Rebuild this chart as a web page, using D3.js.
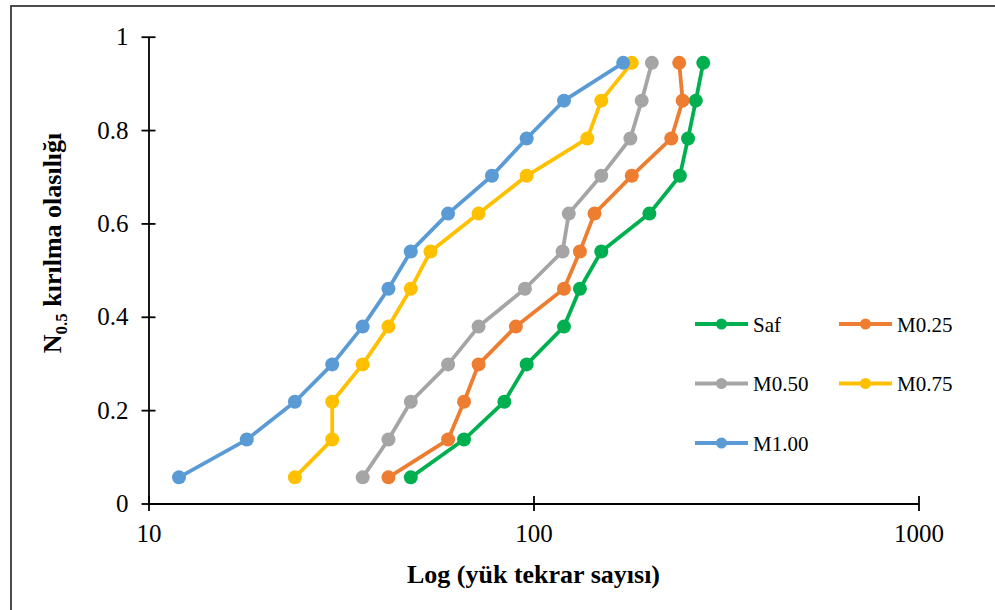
<!DOCTYPE html>
<html>
<head>
<meta charset="utf-8">
<script src="https://cdn.jsdelivr.net/npm/d3@7"></script>
<style>
  html, body { margin: 0; padding: 0; background: #fff; }
  svg { display: block; }
  text { font-family: "Liberation Serif", "Times New Roman", serif; fill: #000; }
</style>
</head>
<body>
<svg id="chart" width="995" height="610"></svg>
<script>
// ---- data ----
const probability = [0.056, 0.137, 0.218, 0.298, 0.379, 0.46, 0.54, 0.621, 0.702, 0.782, 0.863, 0.944];
const saf   = [48, 66, 84, 96, 120, 132, 150, 200, 240, 252, 264, 276];
const m025  = [42, 60, 66, 72, 90, 120, 132, 144, 180, 228, 244, 239];
const m050  = [36, 42, 48, 60, 72, 95, 119, 123.5, 150, 178.5, 191, 203];
const m075  = [24, 30, 30, 36, 42, 48, 54, 72, 96, 138, 150, 180];
const m100  = [12, 18, 24, 30, 36, 42, 48, 60, 78, 96, 120, 171];
const seriesNames = ["Saf", "M0.25", "M0.50", "M0.75", "M1.00"];
const seriesColors = ["#00B050", "#ED7D31", "#A5A5A5", "#FFC000", "#5B9BD5"];
const xTicks = [10, 100, 1000];
const yTicks = [0, 0.2, 0.4, 0.6, 0.8, 1];
const xTitle = "Log (yük tekrar sayısı)";
const yTitleMain = "N";
const yTitleSub = "0.5";
const yTitleRest = " kırılma olasılığı";

const seriesValues = [saf, m025, m050, m075, m100];
const series = seriesNames.map((name, i) => ({
  name, color: seriesColors[i],
  points: seriesValues[i].map((v, j) => ({ x: v, y: probability[j] }))
}));

// ---- layout ----
const svg = d3.select("#chart");
const x = d3.scaleLog().domain([10, 1000]).range([148.5, 918.5]);
const y = d3.scaleLinear().domain([0, 1]).range([503.5, 36.7]);

// outer border (clipped at right/bottom like reference)
svg.append("rect")
  .attr("x", 11).attr("y", 6).attr("width", 1000).attr("height", 620)
  .attr("fill", "none").attr("stroke", "#3a3a3a").attr("stroke-width", 1.8);

// y axis
const yAxis = d3.axisLeft(y).tickValues(yTicks).tickFormat(d3.format("")).tickSizeInner(7).tickSizeOuter(0).tickPadding(14);
const gy = svg.append("g").attr("transform", `translate(${x(10)},0)`).call(yAxis);
gy.select(".domain").attr("stroke", "#000").attr("stroke-width", 1.8);
gy.selectAll(".tick line").attr("x2", -7).attr("x1", 7).attr("stroke", "#000").attr("stroke-width", 1.8);
gy.selectAll(".tick text").attr("font-size", 25).attr("font-family", "Liberation Serif").attr("x", -20);

// x axis
const xAxis = d3.axisBottom(x).tickValues(xTicks).tickFormat(d3.format("d")).tickSizeInner(7).tickSizeOuter(0).tickPadding(14);
const gx = svg.append("g").attr("transform", `translate(0,${y(0)})`).call(xAxis);
gx.select(".domain").attr("stroke", "#000").attr("stroke-width", 1.8);
gx.selectAll(".tick line").attr("y1", -7.5).attr("y2", 7.5).attr("stroke", "#000").attr("stroke-width", 1.8);
gx.selectAll(".tick text").attr("font-size", 25).attr("font-family", "Liberation Serif").attr("y", 21);

// titles
svg.append("text")
  .attr("x", (x(10) + x(1000)) / 2).attr("y", 583)
  .attr("text-anchor", "middle").attr("font-size", 26).attr("font-weight", "bold")
  .text(xTitle);

const yt = svg.append("text")
  .attr("transform", "translate(61,243) rotate(-90)")
  .attr("text-anchor", "middle").attr("font-size", 26).attr("font-weight", "bold");
yt.append("tspan").text(yTitleMain);
yt.append("tspan").attr("font-size", 17).attr("dy", 6).text(yTitleSub);
yt.append("tspan").attr("dy", -6).text(yTitleRest);

// series
const line = d3.line().x(d => x(d.x)).y(d => y(d.y));
series.forEach(s => {
  const g = svg.append("g");
  g.append("path").datum(s.points)
    .attr("d", line).attr("fill", "none")
    .attr("stroke", s.color).attr("stroke-width", 3.8).attr("stroke-linejoin", "round");
  g.selectAll("circle").data(s.points).join("circle")
    .attr("cx", d => x(d.x)).attr("cy", d => y(d.y)).attr("r", 7)
    .attr("fill", s.color);
});

// legend
const legendPos = [[695, 324], [839, 324], [695, 383.5], [839, 383.5], [695, 443]];
series.forEach((s, i) => {
  const [lx, ly] = legendPos[i];
  const g = svg.append("g").attr("transform", `translate(${lx},${ly})`);
  g.append("line").attr("x1", 0).attr("x2", 53).attr("y1", 0).attr("y2", 0)
    .attr("stroke", s.color).attr("stroke-width", 3.8);
  g.append("circle").attr("cx", 26.5).attr("cy", 0).attr("r", 5.5).attr("fill", s.color);
  g.append("text").attr("x", 58).attr("y", 7.5).attr("font-size", 21).text(s.name);
});
</script>
</body>
</html>
